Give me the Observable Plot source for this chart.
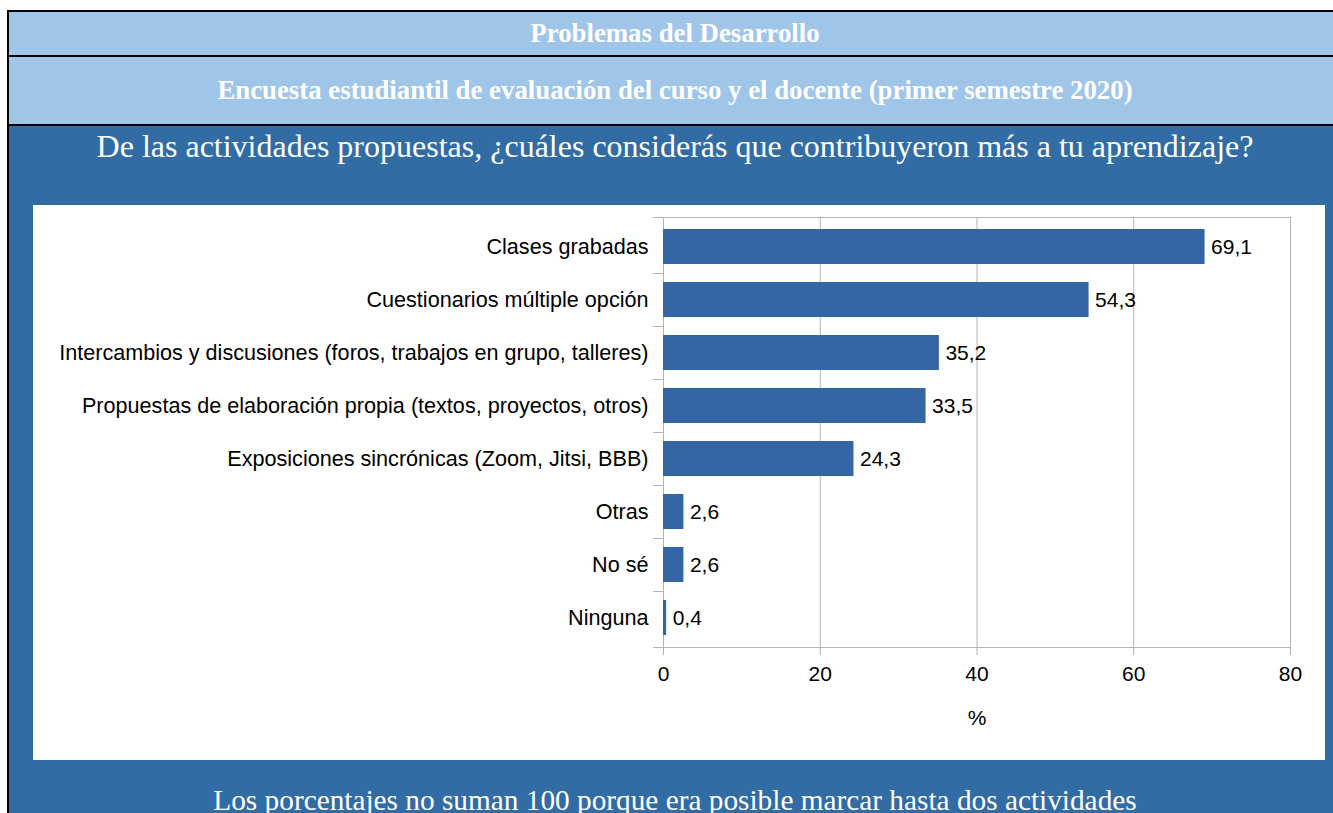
<!DOCTYPE html>
<html>
<head>
<meta charset="utf-8">
<script src="https://cdn.jsdelivr.net/npm/d3@7"></script>
<script src="https://cdn.jsdelivr.net/npm/@observablehq/plot@0.6"></script>
<style>
  html, body { margin: 0; padding: 0; background: #ffffff; overflow: hidden; width: 1333px; height: 813px; }
  #table { position: absolute; left: 7px; top: 10px; width: 1332px; border-left: 2px solid #000; border-top: 2px solid #000; }
  .hdr { background: #9fc5e8; color: #fff; font-family: "Liberation Serif", "Times New Roman", serif; font-weight: bold; font-size: 26.8px; text-align: center; border-bottom: 2px solid #000; }
  #h1 { height: 43px; line-height: 43px; }
  #h2 { height: 67px; line-height: 67px; }
  #body { background: #326ca4; height: 700px; position: relative; }
  #title { position: absolute; left: 0; top: 0; width: 100%; height: 40px; line-height: 40px; text-align: center; color: #fff; font-family: "Liberation Serif", "Times New Roman", serif; font-size: 32px; }
  #chart { position: absolute; left: 24px; top: 79px; width: 1292px; height: 555px; background: #fff; }
  #chart svg { display: block; }
  #caption { position: absolute; left: 0; top: 634px; width: 100%; height: 80px; line-height: 80px; text-align: center; color: #fff; font-family: "Liberation Serif", "Times New Roman", serif; font-size: 29.3px; }
</style>
</head>
<body>
<div id="table">
  <div class="hdr" id="h1">Problemas del Desarrollo</div>
  <div class="hdr" id="h2">Encuesta estudiantil de evaluación del curso y el docente (primer semestre 2020)</div>
  <div id="body">
    <div id="title">De las actividades propuestas, ¿cuáles considerás que contribuyeron más a tu aprendizaje?</div>
    <div id="chart"></div>
    <div id="caption">Los porcentajes no suman 100 porque era posible marcar hasta dos actividades</div>
  </div>
</div>
<script>
const categories = [
  "Clases grabadas",
  "Cuestionarios múltiple opción",
  "Intercambios y discusiones (foros, trabajos en grupo, talleres)",
  "Propuestas de elaboración propia (textos, proyectos, otros)",
  "Exposiciones sincrónicas (Zoom, Jitsi, BBB)",
  "Otras",
  "No sé",
  "Ninguna"
];
const values = [69.1, 54.3, 35.2, 33.5, 24.3, 2.6, 2.6, 0.4];
const xTicks = [0, 20, 40, 60, 80];
const xLabel = "%";

const data = categories.map((c, i) => ({label: c, value: values[i]}));
const fmt = v => v.toFixed(1).replace(".", ",");
const gridColor = "#b3b3b3";
const fs = 21;

function bandFrame(index, scales, vals, dims) {
  const y = scales.y;
  const step = typeof y.step === "function" ? y.step() : scales.scales.y.step;
  const bw = typeof y.bandwidth === "function" ? y.bandwidth() : scales.scales.y.bandwidth;
  const x0 = dims.marginLeft;
  const x1 = dims.width - dims.marginRight;
  const top = dims.marginTop;
  const bottom = dims.height - dims.marginBottom;
  const g = d3.create("svg:g").attr("stroke", gridColor).attr("stroke-width", 1).attr("fill", "none");
  g.append("line").attr("x1", x0 - 10).attr("x2", x1).attr("y1", top + 0.5).attr("y2", top + 0.5);
  g.append("line").attr("x1", x0 - 10).attr("x2", x1).attr("y1", bottom + 0.5).attr("y2", bottom + 0.5);
  categories.slice(1).forEach(c => {
    const yy = Math.round(y(c) - (step - bw) / 2) + 0.5;
    g.append("line").attr("x1", x0 - 10).attr("x2", x0).attr("y1", yy).attr("y2", yy);
  });
  return g.node();
}

const chart = Plot.plot({
  width: 1292,
  height: 555,
  marginLeft: 630,
  marginRight: 35,
  marginTop: 12,
  marginBottom: 113,
  style: {fontFamily: "'Liberation Sans', Arial, sans-serif", fontSize: fs + "px", color: "#000", background: "#fff"},
  x: {domain: [0, 80], ticks: xTicks},
  y: {domain: categories, paddingInner: 0.34, paddingOuter: 0.16},
  marks: [
    Plot.gridX(xTicks, {stroke: gridColor, strokeOpacity: 1}),
    bandFrame,
    Plot.barX(data, {x: "value", y: "label", fill: "#3465a4"}),
    Plot.text(data, {x: "value", y: "label", text: d => fmt(d.value), dx: 6, textAnchor: "start", fontSize: fs, fill: "#000"}),
    Plot.axisY({tickSize: 0, tickPadding: 15, fontSize: 21.6, fill: "#000", label: null}),
    Plot.axisX(xTicks, {tickSize: 8, tickPadding: 11, fontSize: fs, stroke: gridColor, fill: "#000", label: xLabel, labelAnchor: "center", labelArrow: "none", labelOffset: 77})
  ]
});
document.getElementById("chart").appendChild(chart);
</script>
</body>
</html>
